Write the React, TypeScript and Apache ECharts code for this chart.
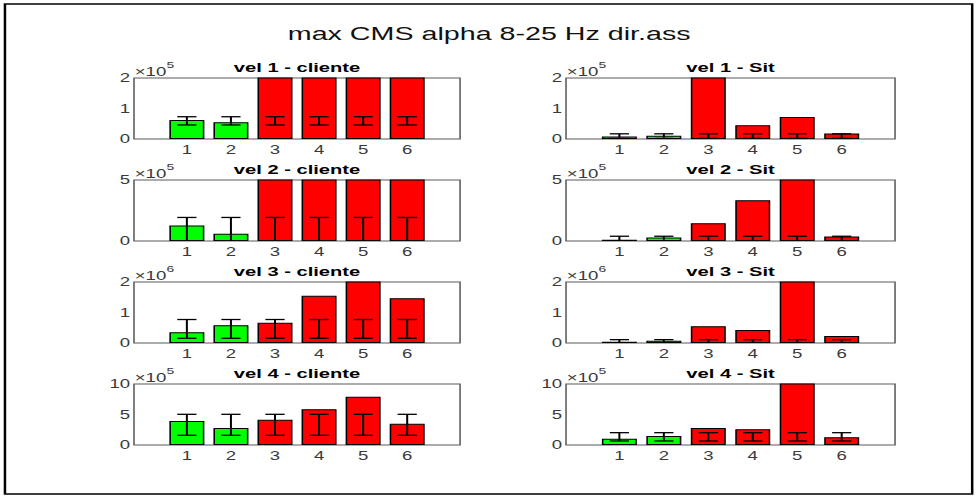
import React, { useEffect, useRef } from "react";
import * as echarts from "echarts";

// ---------- data ----------
const mainTitle = "max CMS alpha 8-25 Hz dir.ass";
const categories = [1, 2, 3, 4, 5, 6];
const barColors = ["#00ff00", "#00ff00", "#ff0000", "#ff0000", "#ff0000", "#ff0000"];

const panelTitles = [
  "vel 1 - cliente", "vel 1 - Sit",
  "vel 2 - cliente", "vel 2 - Sit",
  "vel 3 - cliente", "vel 3 - Sit",
  "vel 4 - cliente", "vel 4 - Sit",
];

const cliente1 = [0.62e5, 0.55e5, 3.0e5, 3.0e5, 3.0e5, 3.0e5];
const sit1 = [0.08e5, 0.11e5, 3.0e5, 0.45e5, 0.72e5, 0.18e5];
const cliente2 = [1.27e5, 0.6e5, 7e5, 7e5, 7e5, 7e5];
const sit2 = [0.1e5, 0.28e5, 1.46e5, 3.35e5, 6e5, 0.36e5];
const cliente3 = [0.35e6, 0.58e6, 0.66e6, 1.55e6, 2.4e6, 1.47e6];
const sit3 = [0.04e6, 0.07e6, 0.55e6, 0.43e6, 2.5e6, 0.23e6];
const cliente4 = [3.93e5, 2.79e5, 4.15e5, 5.85e5, 7.92e5, 3.5e5];
const sit4 = [1.03e5, 1.48e5, 2.79e5, 2.57e5, 12e5, 1.26e5];

// error bars: [low, high], same for every bar of a panel
const errCliente1 = [0.46e5, 0.73e5];
const errSit1 = [0.02e5, 0.17e5];
const errCliente2 = [-1.5e5, 1.93e5];
const errSit2 = [-0.3e5, 0.39e5];
const errCliente3 = [0.155e6, 0.77e6];
const errSit3 = [-0.05e6, 0.11e6];
const errCliente4 = [1.59e5, 5.03e5];
const errSit4 = [0.66e5, 2.02e5];

const panelValues = [cliente1, sit1, cliente2, sit2, cliente3, sit3, cliente4, sit4];
const panelErrors = [errCliente1, errSit1, errCliente2, errSit2, errCliente3, errSit3, errCliente4, errSit4];

// y-axis: max, tick interval, exponent
const yMax = [2e5, 2e5, 5e5, 5e5, 2e6, 2e6, 10e5, 10e5];
const yInterval = [1e5, 1e5, 5e5, 5e5, 1e6, 1e6, 5e5, 5e5];
const yExponent = [5, 5, 5, 5, 6, 6, 5, 5];

// ---------- layout (inner, before horizontal stretch) ----------
const FULL_W = 979;
const INNER_W = 632;
const K = FULL_W / INNER_W;
const H = 497;
const colLeft = [86.5, 365.4];
const colWidth = [210.5, 212.4];
const rowTop = [78, 180, 282, 384];
const gridH = 61;
const FONT = "Liberation Sans, Arial, sans-serif";
const AXIS_COLOR = "#5a5a5a";
const LABEL_COLOR = "#3a3a3a";

export default function App() {
  const ref = useRef<HTMLDivElement>(null);

  useEffect(() => {
    if (!ref.current) return;
    const chart = echarts.init(ref.current, null, { renderer: "svg" });

    const grids: any[] = [];
    const xAxes: any[] = [];
    const yAxes: any[] = [];
    const series: any[] = [];
    const graphics: any[] = [];

    graphics.push({
      type: "rect",
      shape: { x: 3.2, y: 4, width: 624.4, height: 490 },
      style: { fill: "none", stroke: "#000", lineWidth: 1.6 },
      silent: true,
    });
    graphics.push({
      type: "text",
      x: INNER_W * 0.5 - 0.2,
      y: 33,
      style: {
        text: mainTitle,
        font: `18.5px ${FONT}`,
        fill: "#111",
        textAlign: "center",
        textVerticalAlign: "middle",
      },
    });

    for (let i = 0; i < 8; i++) {
      const r = Math.floor(i / 2);
      const c = i % 2;
      const left = colLeft[c];
      const top = rowTop[r];
      const max = yMax[i];
      const scale = Math.pow(10, yExponent[i]);

      grids.push({
        left,
        top,
        width: colWidth[c],
        height: gridH,
        show: true,
        borderColor: AXIS_COLOR,
        borderWidth: 1,
        backgroundColor: "#fff",
      });
      xAxes.push({
        type: "value",
        gridIndex: i,
        min: -0.2,
        max: 7.2,
        axisLine: { show: false },
        axisTick: { show: false },
        splitLine: { show: false },
        axisLabel: {
          customValues: categories,
          formatter: (v: number) => String(Math.round(v)),
          color: LABEL_COLOR,
          fontFamily: FONT,
          fontSize: 12,
          margin: 5,
        },
      });
      yAxes.push({
        type: "value",
        gridIndex: i,
        min: 0,
        max,
        interval: yInterval[i],
        axisLine: { show: false },
        axisTick: { show: false },
        splitLine: { show: false },
        axisLabel: {
          formatter: (v: number) => String(Math.round(v / scale)),
          color: LABEL_COLOR,
          fontFamily: FONT,
          fontSize: 12,
          margin: 2.5,
        },
      });

      series.push({
        type: "bar",
        xAxisIndex: i,
        yAxisIndex: i,
        barWidth: 22.6,
        clip: true,
        data: panelValues[i].map((v, j) => ({
          value: [categories[j], v],
          itemStyle: { color: barColors[j], borderColor: "#000", borderWidth: 1 },
        })),
      });

      const err = panelErrors[i];
      series.push({
        type: "custom",
        xAxisIndex: i,
        yAxisIndex: i,
        encode: { x: 0, y: [1, 2] },
        data: categories.map((cat) => [cat, err[0], err[1]]),
        z: 5,
        renderItem: (params: any, api: any) => {
          const x = api.value(0);
          const lo = api.value(1);
          const hi = api.value(2);
          const loC = Math.max(lo, 0);
          const hiC = Math.min(hi, max);
          const pLo = api.coord([x, loC]);
          const pHi = api.coord([x, hiC]);
          const hw = 6.2;
          const st = { stroke: "#000", lineWidth: 1.3 };
          const children: any[] = [
            { type: "line", shape: { x1: pLo[0], y1: pLo[1], x2: pHi[0], y2: pHi[1] }, style: st },
          ];
          if (hi <= max) {
            children.push({ type: "line", shape: { x1: pHi[0] - hw, y1: pHi[1], x2: pHi[0] + hw, y2: pHi[1] }, style: st });
          }
          if (lo >= 0) {
            children.push({ type: "line", shape: { x1: pLo[0] - hw, y1: pLo[1], x2: pLo[0] + hw, y2: pLo[1] }, style: st });
          }
          return { type: "group", children };
        },
      });

      graphics.push({
        type: "text",
        x: left + colWidth[c] / 2,
        y: top - 10.5,
        style: {
          text: panelTitles[i],
          font: `bold 13px ${FONT}`,
          fill: "#000",
          textAlign: "center",
          textVerticalAlign: "middle",
        },
      });
      graphics.push({
        type: "text",
        x: left + 0.5,
        y: top - 6.5,
        style: {
          text: "×10",
          font: `12px ${FONT}`,
          fill: LABEL_COLOR,
          textAlign: "left",
          textVerticalAlign: "middle",
        },
      });
      graphics.push({
        type: "text",
        x: left + 21,
        y: top - 13,
        style: {
          text: String(yExponent[i]),
          font: `9px ${FONT}`,
          fill: LABEL_COLOR,
          textAlign: "left",
          textVerticalAlign: "middle",
        },
      });
    }

    chart.setOption({
      animation: false,
      backgroundColor: "#fff",
      grid: grids,
      xAxis: xAxes,
      yAxis: yAxes,
      series,
      graphic: graphics,
    });

    return () => chart.dispose();
  }, []);

  return (
    <div
      style={{
        position: "absolute",
        left: 0,
        top: 0,
        width: FULL_W,
        height: H,
        overflow: "hidden",
        background: "#fff",
      }}
    >
      <div
        ref={ref}
        style={{
          width: INNER_W,
          height: H,
          transform: `scaleX(${K})`,
          transformOrigin: "0 0",
        }}
      />
    </div>
  );
}
